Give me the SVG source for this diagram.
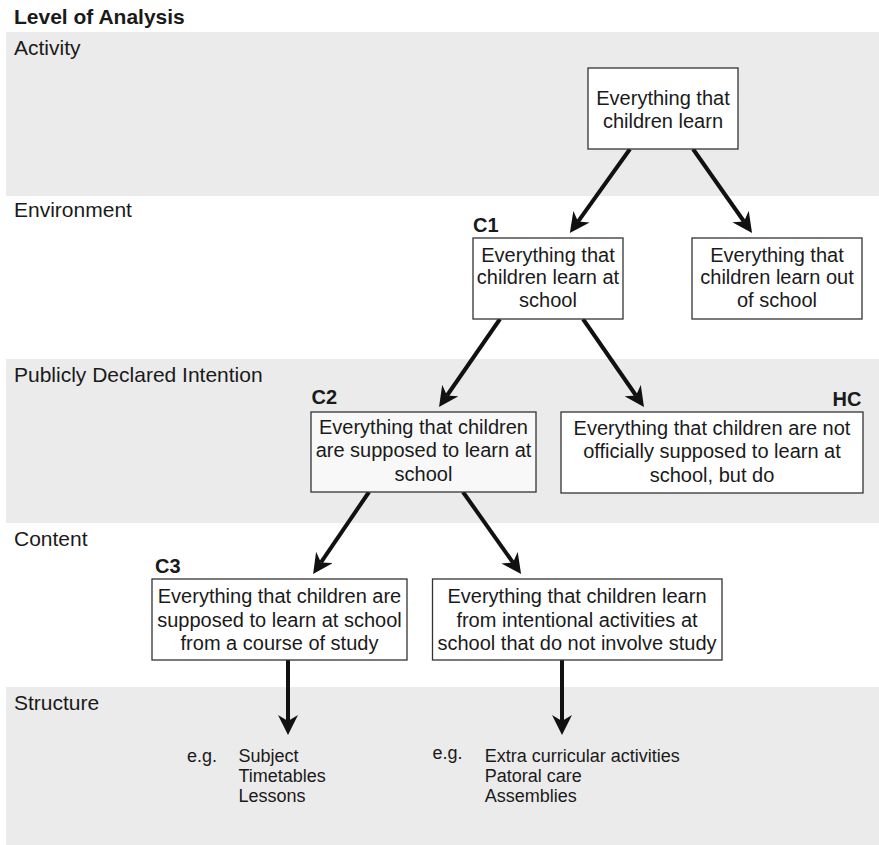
<svg xmlns="http://www.w3.org/2000/svg" width="879" height="845" viewBox="0 0 879 845">
  <style>
    text { font-family: "Liberation Sans", Arial, sans-serif; fill: #1a1a1a; }
    .title { font-size: 21px; font-weight: bold; }
    .level { font-size: 21px; }
    .band { fill: #ebebeb; }
    .box { fill: #ffffff; stroke: #333333; stroke-width: 1.3; }
    .box.tint { fill: #f8f8f8; }
    .txt { font-size: 20px; text-anchor: middle; }
    .tag { font-size: 20px; font-weight: bold; }
    .eg { font-size: 18px; }
    .arrow { stroke: #111111; stroke-width: 4; fill: none; marker-end: url(#head); }
  </style>
  <defs>
    <marker id="head" viewBox="0 0 20 20" refX="6" refY="10" markerWidth="20" markerHeight="20" markerUnits="userSpaceOnUse" orient="auto">
      <path d="M0,0 L20,10 L0,20 L6,10 Z" fill="#111111"/>
    </marker>
  </defs>

  <rect width="879" height="845" fill="#ffffff"/>

  <!-- level bands -->
  <g id="bands">
    <rect class="band" x="6" y="32" width="873" height="164"/>
    <rect class="band" x="6" y="359" width="873" height="164"/>
    <rect class="band" x="6" y="687" width="873" height="158"/>
  </g>

  <!-- level headings -->
  <g id="levels">
    <text class="title" x="14" y="24">Level of Analysis</text>
    <text class="level" x="14" y="55">Activity</text>
    <text class="level" x="14" y="217">Environment</text>
    <text class="level" x="14" y="382">Publicly Declared Intention</text>
    <text class="level" x="14" y="546">Content</text>
    <text class="level" x="14" y="710">Structure</text>
  </g>

  <!-- connectors -->
  <g id="connectors">
    <line class="arrow" x1="630" y1="149" x2="578" y2="221.6"/>
    <line class="arrow" x1="693" y1="149" x2="744" y2="221.5"/>
    <line class="arrow" x1="500" y1="319" x2="447" y2="395.5"/>
    <line class="arrow" x1="583" y1="319" x2="636" y2="395.5"/>
    <line class="arrow" x1="369" y1="492" x2="321" y2="562.4"/>
    <line class="arrow" x1="463" y1="492" x2="513" y2="562.6"/>
    <line class="arrow" x1="288" y1="660" x2="288" y2="721"/>
    <line class="arrow" x1="562" y1="660" x2="562" y2="721"/>
  </g>

  <g id="all-learning">
    <rect class="box" x="588" y="68" width="150" height="81"/>
    <text class="txt" x="663" y="105">Everything that</text>
    <text class="txt" x="663" y="128">children learn</text>
  </g>

  <g id="c1">
    <text class="tag" x="473" y="231.5">C1</text>
    <rect class="box" x="473" y="238" width="150" height="81"/>
    <text class="txt" x="548" y="261.5">Everything that</text>
    <text class="txt" x="548" y="284">children learn at</text>
    <text class="txt" x="548" y="306.5">school</text>
  </g>

  <g id="out-of-school">
    <rect class="box" x="692" y="238" width="170" height="81"/>
    <text class="txt" x="777" y="261.5">Everything that</text>
    <text class="txt" x="777" y="284">children learn out</text>
    <text class="txt" x="777" y="306.5">of school</text>
  </g>

  <g id="c2">
    <text class="tag" x="311.5" y="404">C2</text>
    <rect class="box tint" x="311" y="412" width="225" height="80"/>
    <text class="txt" x="423.5" y="434">Everything that children</text>
    <text class="txt" x="423.5" y="457.3">are supposed to learn at</text>
    <text class="txt" x="423.5" y="480.7">school</text>
  </g>

  <g id="hc">
    <text class="tag" x="861.5" y="406" text-anchor="end">HC</text>
    <rect class="box" x="561" y="412" width="302" height="81"/>
    <text class="txt" x="712" y="435">Everything that children are not</text>
    <text class="txt" x="712" y="458.3">officially supposed to learn at</text>
    <text class="txt" x="712" y="481.7">school, but do</text>
  </g>

  <g id="c3">
    <text class="tag" x="155" y="573.3">C3</text>
    <rect class="box" x="152" y="579" width="255" height="81"/>
    <text class="txt" x="279.5" y="603.3">Everything that children are</text>
    <text class="txt" x="279.5" y="626.7">supposed to learn at school</text>
    <text class="txt" x="279.5" y="650">from a course of study</text>
  </g>

  <g id="non-study">
    <rect class="box" x="432.5" y="579" width="289.5" height="81"/>
    <text class="txt" x="577" y="603.3">Everything that children learn</text>
    <text class="txt" x="577" y="626.7">from intentional activities at</text>
    <text class="txt" x="577" y="650">school that do not involve study</text>
  </g>

  <g id="study-examples">
    <text class="eg" x="187" y="762">e.g.</text>
    <text class="eg"><tspan x="238.5" y="762">Subject</tspan><tspan x="238.5" y="782">Timetables</tspan><tspan x="238.5" y="802">Lessons</tspan></text>
  </g>

  <g id="activity-examples">
    <text class="eg" x="432.5" y="759">e.g.</text>
    <text class="eg"><tspan x="484.7" y="762">Extra curricular activities</tspan><tspan x="484.7" y="782">Patoral care</tspan><tspan x="484.7" y="802">Assemblies</tspan></text>
  </g>
</svg>
